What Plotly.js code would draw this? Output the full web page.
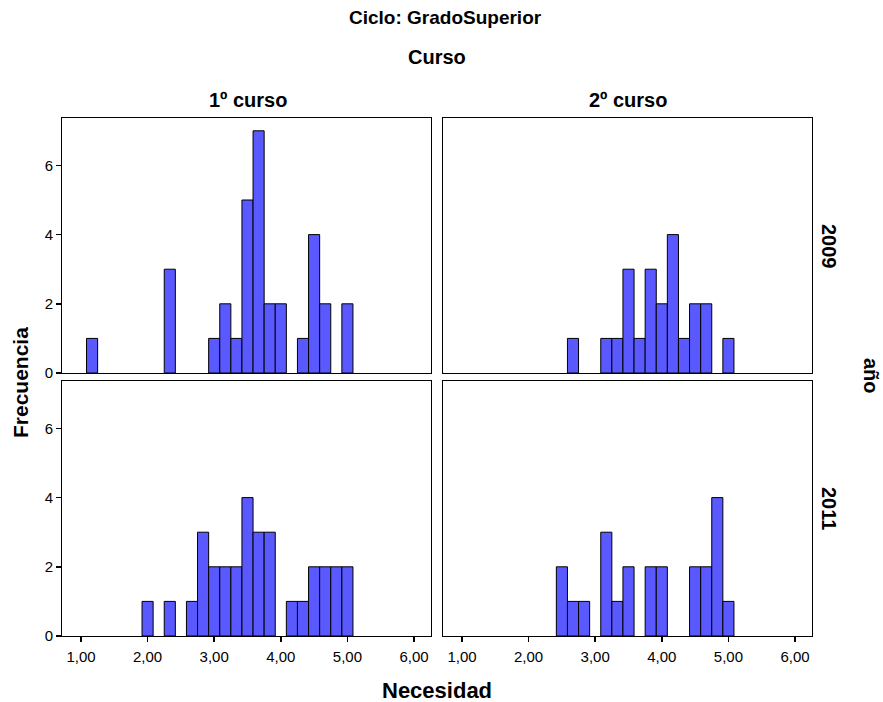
<!DOCTYPE html>
<html>
<head>
<meta charset="utf-8">
<script src="https://cdn.plot.ly/plotly-3.0.1.min.js"></script>
<style>html,body{margin:0;padding:0;background:#fff;}#chart{width:883px;height:702px;}</style>
</head>
<body>
<div id="chart"></div>
<script>
// Bin centres (width 1/6) and counts
const binWidth = 1 / 6;

const x_1c_2009 = [7/6, 14/6, 18/6, 19/6, 20/6, 21/6, 22/6, 23/6, 24/6, 26/6, 27/6, 28/6, 30/6];
const y_1c_2009 = [1, 3, 1, 2, 1, 5, 7, 2, 2, 1, 4, 2, 2];

const x_2c_2009 = [16/6, 19/6, 20/6, 21/6, 22/6, 23/6, 24/6, 25/6, 26/6, 27/6, 28/6, 30/6];
const y_2c_2009 = [1, 1, 1, 3, 1, 3, 2, 4, 1, 2, 2, 1];

const x_1c_2011 = [12/6, 14/6, 16/6, 17/6, 18/6, 19/6, 20/6, 21/6, 22/6, 23/6, 25/6, 26/6, 27/6, 28/6, 29/6, 30/6];
const y_1c_2011 = [1, 1, 1, 3, 2, 2, 2, 4, 3, 3, 1, 1, 2, 2, 2, 2];

const x_2c_2011 = [15/6, 16/6, 17/6, 19/6, 20/6, 21/6, 23/6, 24/6, 27/6, 28/6, 29/6, 30/6];
const y_2c_2011 = [2, 1, 1, 3, 1, 2, 2, 2, 2, 2, 4, 1];

const xTickVals = [1, 2, 3, 4, 5, 6];
const xTickText = ["1,00", "2,00", "3,00", "4,00", "5,00", "6,00"];
const yTickVals = [0, 2, 4, 6];

const columnLabels = ["1º curso", "2º curso"];
const rowLabels = ["2009", "2011"];

const barColor = "rgb(89,89,255)";
function barTrace(x, y, xa, ya) {
  return {
    type: "bar", x: x, y: y, width: binWidth, xaxis: xa, yaxis: ya,
    marker: {color: barColor, line: {color: "#000", width: 1}},
    hoverinfo: "x+y", showlegend: false
  };
}

const data = [
  barTrace(x_1c_2009, y_1c_2009, "x", "y"),
  barTrace(x_2c_2009, y_2c_2009, "x2", "y2"),
  barTrace(x_1c_2011, y_1c_2011, "x3", "y3"),
  barTrace(x_2c_2011, y_2c_2011, "x4", "y4")
];

const font = "Liberation Sans, Arial, sans-serif";
const xRange = [0.715, 6.255];
const yRange = [0, 7.37];

function xAxis(domain, anchor, showTicks) {
  return {
    domain: domain, anchor: anchor, range: xRange, showgrid: false, zeroline: false,
    showline: true, mirror: true, linecolor: "#000", linewidth: 1,
    tickmode: "array", tickvals: xTickVals, ticktext: xTickText,
    ticks: showTicks ? "outside" : "", ticklen: 5, tickcolor: "#000", tickwidth: 1.5,
    ticklabelstandoff: 2,
    showticklabels: showTicks, tickfont: {family: font, size: 15, color: "#000"}
  };
}
function yAxis(domain, anchor, showTicks) {
  return {
    domain: domain, anchor: anchor, range: yRange, showgrid: false, zeroline: false,
    showline: true, mirror: true, linecolor: "#000", linewidth: 1,
    tickmode: "array", tickvals: yTickVals,
    ticks: showTicks ? "outside" : "", ticklen: 5, tickcolor: "#000", tickwidth: 1.5,
    showticklabels: showTicks, tickfont: {family: font, size: 15, color: "#000"}
  };
}

const xdL = [0, 0.492], xdR = [0.508, 1];
const ydT = [0.5077, 1], ydB = [0, 0.4923];

function px2x(px) { return (px - 62) / 750; }
function px2y(py) { return (636 - py) / 518; }

const layout = {
  width: 883, height: 702,
  margin: {l: 62, r: 71, t: 118, b: 66},
  paper_bgcolor: "#fff", plot_bgcolor: "#fff",
  bargap: 0,
  xaxis: xAxis(xdL, "y", false),
  yaxis: yAxis(ydT, "x", true),
  xaxis2: xAxis(xdR, "y2", false),
  yaxis2: yAxis(ydT, "x2", false),
  xaxis3: xAxis(xdL, "y3", true),
  yaxis3: yAxis(ydB, "x3", true),
  xaxis4: xAxis(xdR, "y4", true),
  yaxis4: yAxis(ydB, "x4", false),
  annotations: [
    {text: "<b>Ciclo: GradoSuperior</b>", xref: "paper", yref: "paper", x: px2x(445), y: px2y(18), xanchor: "center", yanchor: "middle",
     showarrow: false, font: {family: font, size: 19, color: "#000"}},
    {text: "<b>Curso</b>", xref: "paper", yref: "paper", x: px2x(437), y: px2y(57), xanchor: "center", yanchor: "middle",
     showarrow: false, font: {family: font, size: 20, color: "#000"}},
    {text: "<b>" + columnLabels[0] + "</b>", xref: "paper", yref: "paper", x: px2x(248), y: px2y(100), xanchor: "center", yanchor: "middle",
     showarrow: false, font: {family: font, size: 20, color: "#000"}},
    {text: "<b>" + columnLabels[1] + "</b>", xref: "paper", yref: "paper", x: px2x(628), y: px2y(100), xanchor: "center", yanchor: "middle",
     showarrow: false, font: {family: font, size: 20, color: "#000"}},
    {text: "<b>" + rowLabels[0] + "</b>", xref: "paper", yref: "paper", x: px2x(829), y: px2y(246), xanchor: "center", yanchor: "middle",
     textangle: 90, showarrow: false, font: {family: font, size: 20, color: "#000"}},
    {text: "<b>" + rowLabels[1] + "</b>", xref: "paper", yref: "paper", x: px2x(829), y: px2y(508), xanchor: "center", yanchor: "middle",
     textangle: 90, showarrow: false, font: {family: font, size: 20, color: "#000"}},
    {text: "<b>año</b>", xref: "paper", yref: "paper", x: px2x(871), y: px2y(376), xanchor: "center", yanchor: "middle",
     textangle: 90, showarrow: false, font: {family: font, size: 20, color: "#000"}},
    {text: "<b>Frecuencia</b>", xref: "paper", yref: "paper", x: px2x(20), y: px2y(383), xanchor: "center", yanchor: "middle",
     textangle: -90, showarrow: false, font: {family: font, size: 21, color: "#000"}},
    {text: "<b>Necesidad</b>", xref: "paper", yref: "paper", x: px2x(437), y: px2y(690), xanchor: "center", yanchor: "middle",
     showarrow: false, font: {family: font, size: 22, color: "#000"}}
  ]
};

Plotly.newPlot("chart", data, layout, {staticPlot: true, displayModeBar: false});
</script>
</body>
</html>
